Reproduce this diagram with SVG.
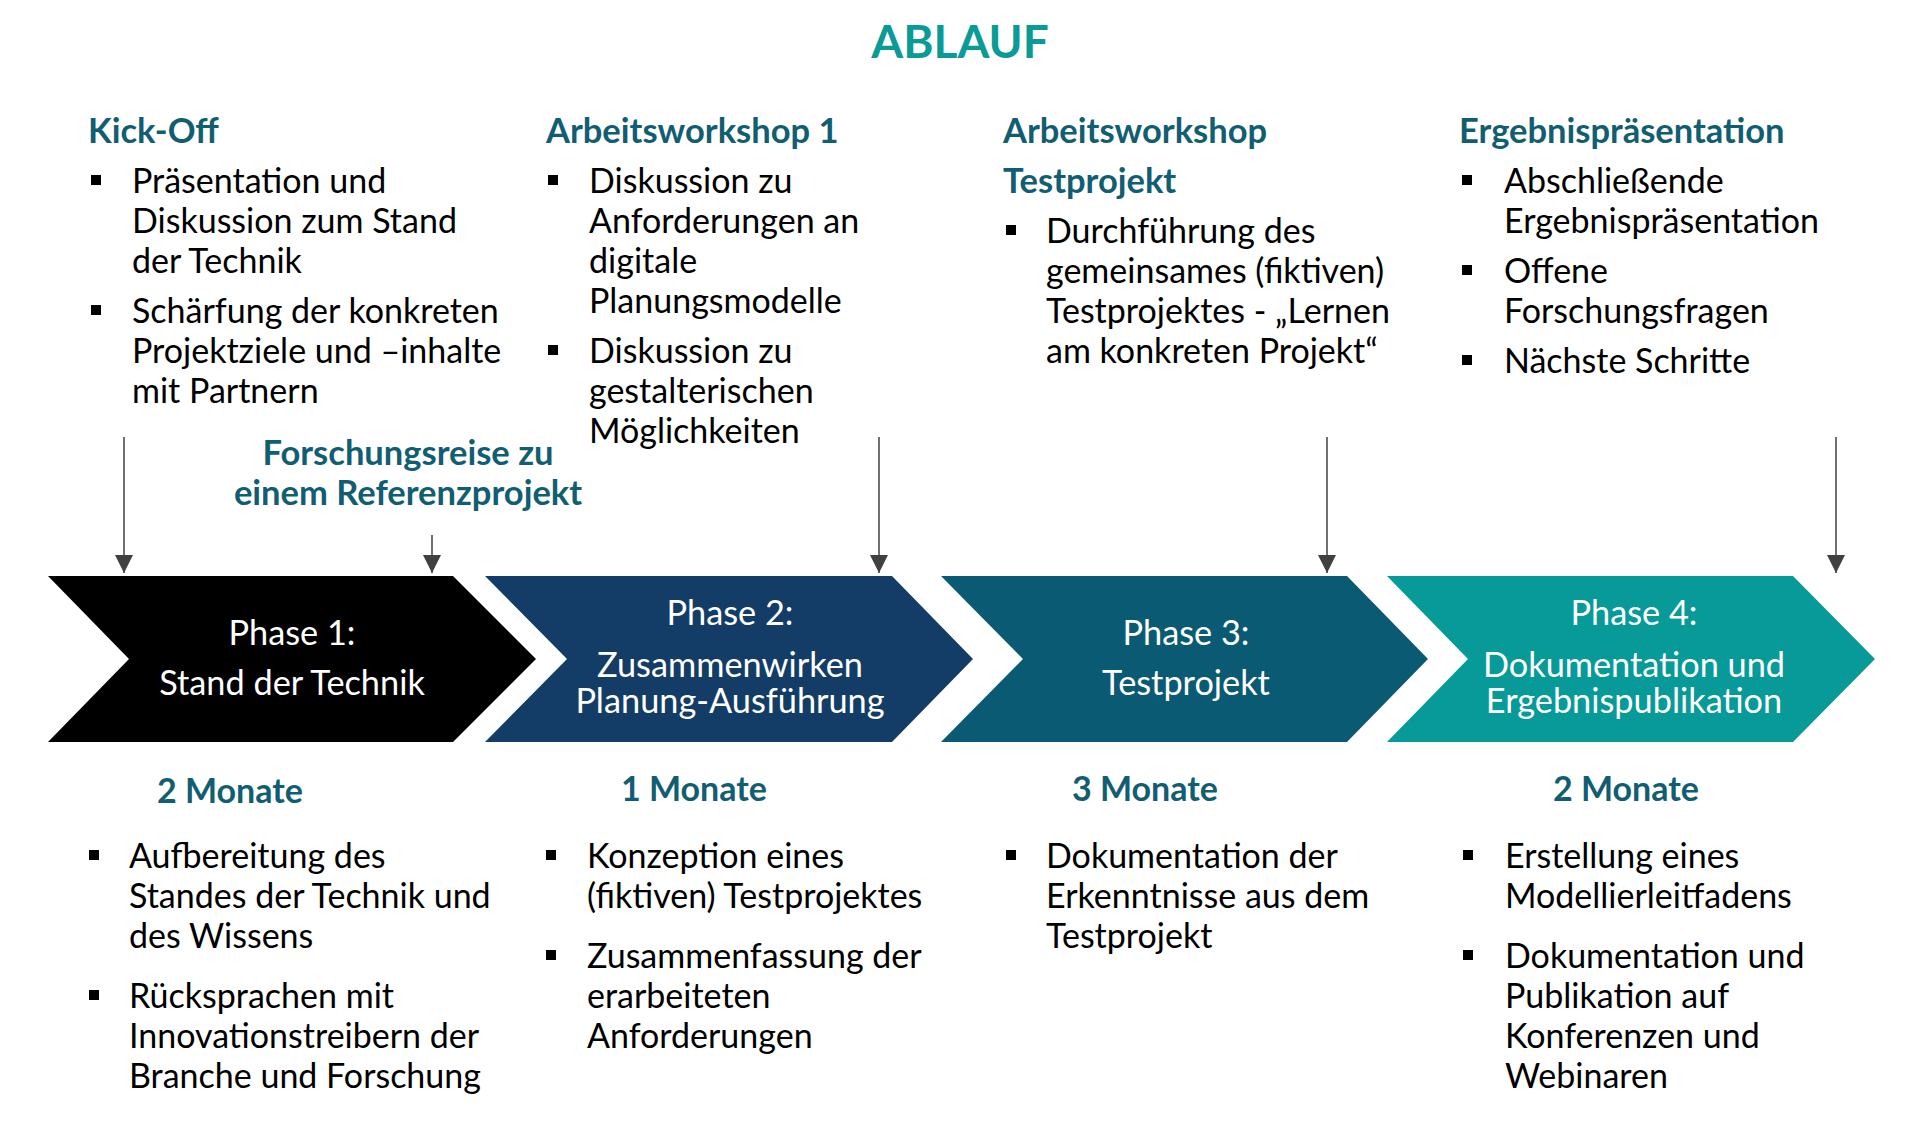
<svg xmlns="http://www.w3.org/2000/svg" width="1919" height="1121" viewBox="0 0 1919 1121">
<defs>
<style>
text{font-family:Lato,"Open Sans","Liberation Sans",sans-serif}
.title{font-size:46px;font-weight:700;fill:#0a9b97}
.hd{font-size:34.5px;font-weight:700;fill:#115e72}
.tx{font-size:34px;fill:#000}
.ph{font-size:34.3px;fill:#fff}
.mo{font-size:34px;font-weight:700;fill:#115e72}
.bl{fill:#000}
.conn{stroke:#404040;stroke-width:1.5;fill:none}
</style>
<marker id="ah" markerUnits="userSpaceOnUse" markerWidth="18" markerHeight="18" viewBox="0 0 18 18" refX="18" refY="9" orient="auto">
<path d="M0,0 L18,9 L0,18 z" fill="#404040"/>
</marker>
</defs>
<rect width="1919" height="1121" fill="#fff"/>
<g id="title"><text class="title" x="960" y="58" text-anchor="middle">ABLAUF</text></g>

<g id="kickoff">
<text class="hd" x="88" y="143">Kick-Off</text>
<rect class="bl" x="91" y="175" width="10" height="10"/>
<text class="tx" x="132" y="193">Präsentation und</text>
<text class="tx" x="132" y="233">Diskussion zum Stand</text>
<text class="tx" x="132" y="273">der Technik</text>
<rect class="bl" x="91" y="305" width="10" height="10"/>
<text class="tx" x="132" y="323">Schärfung der konkreten</text>
<text class="tx" x="132" y="363">Projektziele und –inhalte</text>
<text class="tx" x="132" y="403">mit Partnern</text>
</g>

<g id="workshop1">
<text class="hd" x="546" y="143">Arbeitsworkshop 1</text>
<rect class="bl" x="548" y="175" width="10" height="10"/>
<text class="tx" x="589" y="193">Diskussion zu</text>
<text class="tx" x="589" y="233">Anforderungen an</text>
<text class="tx" x="589" y="273">digitale</text>
<text class="tx" x="589" y="313">Planungsmodelle</text>
<rect class="bl" x="548" y="345" width="10" height="10"/>
<text class="tx" x="589" y="363">Diskussion zu</text>
<text class="tx" x="589" y="403">gestalterischen</text>
<text class="tx" x="589" y="443">Möglichkeiten</text>
</g>

<g id="workshop-test">
<text class="hd" x="1003" y="143">Arbeitsworkshop</text>
<text class="hd" x="1003" y="193">Testprojekt</text>
<rect class="bl" x="1006" y="225" width="10" height="10"/>
<text class="tx" x="1046" y="243">Durchführung des</text>
<text class="tx" x="1046" y="283">gemeinsames (fiktiven)</text>
<text class="tx" x="1046" y="323">Testprojektes - „Lernen</text>
<text class="tx" x="1046" y="363">am konkreten Projekt“</text>
</g>

<g id="ergebnis">
<text class="hd" x="1459" y="143">Ergebnispräsentation</text>
<rect class="bl" x="1462" y="175" width="10" height="10"/>
<text class="tx" x="1504" y="193">Abschließende</text>
<text class="tx" x="1504" y="233">Ergebnispräsentation</text>
<rect class="bl" x="1462" y="265" width="10" height="10"/>
<text class="tx" x="1504" y="283">Offene</text>
<text class="tx" x="1504" y="323">Forschungsfragen</text>
<rect class="bl" x="1462" y="355" width="10" height="10"/>
<text class="tx" x="1504" y="373">Nächste Schritte</text>
</g>

<g id="forschungsreise">
<text class="hd" x="408" y="465" text-anchor="middle">Forschungsreise zu</text>
<text class="hd" x="408" y="505" text-anchor="middle">einem Referenzprojekt</text>
</g>

<g id="connectors">
<line class="conn" x1="124" y1="437" x2="124" y2="573" marker-end="url(#ah)"/>
<line class="conn" x1="432" y1="535" x2="432" y2="573" marker-end="url(#ah)"/>
<line class="conn" x1="879" y1="437" x2="879" y2="573" marker-end="url(#ah)"/>
<line class="conn" x1="1327" y1="437" x2="1327" y2="573" marker-end="url(#ah)"/>
<line class="conn" x1="1836" y1="437" x2="1836" y2="573" marker-end="url(#ah)"/>
</g>

<g id="phase1">
<polygon points="48,576 453,576 536,659 453,742 48,742 129,659" fill="#000"/>
<text class="ph" x="292" y="645" text-anchor="middle">Phase 1:</text>
<text class="ph" x="292" y="695" text-anchor="middle">Stand der Technik</text>
</g>
<g id="phase2">
<polygon points="485,576 892,576 973,659 892,742 485,742 567,659" fill="#133d66"/>
<text class="ph" x="730" y="625" text-anchor="middle">Phase 2:</text>
<text class="ph" x="730" y="677" text-anchor="middle">Zusammenwirken</text>
<text class="ph" x="730" y="713" text-anchor="middle">Planung-Ausführung</text>
</g>
<g id="phase3">
<polygon points="941,576 1347,576 1428,659 1347,742 941,742 1023,659" fill="#0b5a73"/>
<text class="ph" x="1186" y="645" text-anchor="middle">Phase 3:</text>
<text class="ph" x="1186" y="695" text-anchor="middle">Testprojekt</text>
</g>
<g id="phase4">
<polygon points="1387,576 1793,576 1875,659 1793,742 1387,742 1468,659" fill="#079a98"/>
<text class="ph" x="1634" y="625" text-anchor="middle">Phase 4:</text>
<text class="ph" x="1634" y="677" text-anchor="middle">Dokumentation und</text>
<text class="ph" x="1634" y="713" text-anchor="middle">Ergebnispublikation</text>
</g>

<g id="dauer1">
<text class="mo" x="230" y="803" text-anchor="middle">2 Monate</text>
<rect class="bl" x="89" y="850" width="10" height="10"/>
<text class="tx" x="129" y="868">Aufbereitung des</text>
<text class="tx" x="129" y="908">Standes der Technik und</text>
<text class="tx" x="129" y="948">des Wissens</text>
<rect class="bl" x="89" y="990" width="10" height="10"/>
<text class="tx" x="129" y="1008">Rücksprachen mit</text>
<text class="tx" x="129" y="1048">Innovationstreibern der</text>
<text class="tx" x="129" y="1088">Branche und Forschung</text>
</g>
<g id="dauer2">
<text class="mo" x="694" y="801" text-anchor="middle">1 Monate</text>
<rect class="bl" x="546" y="850" width="10" height="10"/>
<text class="tx" x="587" y="868">Konzeption eines</text>
<text class="tx" x="587" y="908">(fiktiven) Testprojektes</text>
<rect class="bl" x="546" y="950" width="10" height="10"/>
<text class="tx" x="587" y="968">Zusammenfassung der</text>
<text class="tx" x="587" y="1008">erarbeiteten</text>
<text class="tx" x="587" y="1048">Anforderungen</text>
</g>
<g id="dauer3">
<text class="mo" x="1145" y="801" text-anchor="middle">3 Monate</text>
<rect class="bl" x="1006" y="850" width="10" height="10"/>
<text class="tx" x="1046" y="868">Dokumentation der</text>
<text class="tx" x="1046" y="908">Erkenntnisse aus dem</text>
<text class="tx" x="1046" y="948">Testprojekt</text>
</g>
<g id="dauer4">
<text class="mo" x="1626" y="801" text-anchor="middle">2 Monate</text>
<rect class="bl" x="1463" y="850" width="10" height="10"/>
<text class="tx" x="1505" y="868">Erstellung eines</text>
<text class="tx" x="1505" y="908">Modellierleitfadens</text>
<rect class="bl" x="1463" y="950" width="10" height="10"/>
<text class="tx" x="1505" y="968">Dokumentation und</text>
<text class="tx" x="1505" y="1008">Publikation auf</text>
<text class="tx" x="1505" y="1048">Konferenzen und</text>
<text class="tx" x="1505" y="1088">Webinaren</text>
</g>
</svg>
